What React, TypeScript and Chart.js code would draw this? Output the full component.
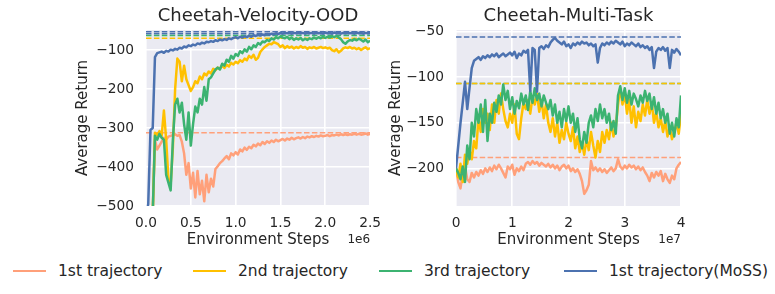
import React, { useEffect, useRef } from 'react';
import { Chart, registerables } from 'chart.js';

Chart.register(...registerables);

// ---------------- data ----------------
const LEFT_STEPS = Array.from({ length: 101 }, (_, i) => i * 25000);
const RIGHT_STEPS = Array.from({ length: 101 }, (_, i) => i * 400000);

const LEFT_X_TICKS = [0, 500000, 1000000, 1500000, 2000000, 2500000];
const LEFT_Y_TICKS = [-500, -400, -300, -200, -100];
const RIGHT_X_TICKS = [0, 10000000, 20000000, 30000000, 40000000];
const RIGHT_Y_TICKS = [-200, -150, -100, -50];

const SERIES_LABELS = ['1st trajectory', '2nd trajectory', '3rd trajectory', '1st trajectory(MoSS)'];

// Cheetah-Velocity-OOD (x step = 0.025e6)
const LEFT_T1: (number | null)[] = [
  null, null, null, -520, -330, -355, -345, -335, -325, -330,
  -322, -320, -318, -316, -320, -318, -335, -365, -420, -390,
  -455, -415, -478, -410, -470, -435, -488, -420, -465, -430,
  -450, -405, -398, -390, -385, -378, -372, -380, -365, -370,
  -362, -368, -355, -360, -350, -356, -348, -352, -343, -347,
  -340, -344, -336, -341, -334, -338, -332, -336, -330, -334,
  -331, -328, -332, -327, -330, -325, -329, -326, -324, -327,
  -323, -326, -322, -324, -321, -323, -320, -322, -319, -321,
  -320, -318, -321, -318, -319, -317, -319, -316, -318, -316,
  -318, -316, -317, -315, -317, -315, -317, -316, -314, -317,
  -315,
];
const LEFT_T2: (number | null)[] = [
  null, null, null, -520, -312, -318, -308, -320, -255, -330,
  -430, -445, -350, -200, -122, -130, -180, -140, -175, -190,
  -205, -195, -180, -185, -168, -175, -160, -165, -155, -160,
  -148, -152, -145, -148, -140, -146, -138, -142, -133, -137,
  -130, -134, -126, -130, -122, -126, -115, -120, -112, -125,
  -120, -105, -98, -92, -88, -84, -85, -80, -82, -85,
  -92, -88, -95, -90, -94, -91, -96, -92, -95, -90,
  -94, -92, -97, -93, -95, -92, -96, -94, -92, -95,
  -93, -96, -94, -100, -103, -98, -106, -102, -96, -93,
  -95, -92, -96, -94, -98, -95, -100, -96, -93, -98,
  -95,
];
const LEFT_T3: (number | null)[] = [
  null, null, null, -520, -320, -330, -315, -325, -330, -420,
  -440, -460, -330, -240, -225, -260, -235, -290, -330, -260,
  -345, -290, -245, -260, -225, -240, -195, -230, -175, -170,
  -160, -150, -145, -150, -135, -140, -125, -130, -115, -122,
  -110, -115, -103, -108, -98, -104, -92, -98, -88, -92,
  -82, -86, -78, -80, -74, -77, -70, -73, -67, -70,
  -65, -68, -70, -66, -72, -68, -74, -70, -73, -69,
  -75, -71, -74, -70, -72, -68, -71, -67, -70, -66,
  -69, -66, -68, -65, -67, -64, -68, -72, -80, -84,
  -78, -74, -76, -72, -75, -71, -74, -78, -73, -80,
  -76,
];
const LEFT_MOSS: (number | null)[] = [
  -530, -495, -305, -300, -118, -108, -106, -104, -107, -102,
  -104, -99, -101, -97, -99, -94, -96, -91, -93, -88,
  -90, -86, -88, -83, -85, -81, -83, -79, -80, -77,
  -79, -75, -77, -73, -75, -72, -74, -70, -72, -69,
  -67, -70, -66, -68, -65, -67, -63, -66, -62, -64,
  -61, -63, -60, -62, -59, -61, -58, -60, -57, -59,
  -56, -58, -56, -57, -55, -58, -56, -57, -55, -57,
  -56, -58, -55, -57, -56, -58, -55, -57, -56, -58,
  -55, -57, -56, -58, -55, -57, -56, -58, -56, -57,
  -55, -57, -56, -58, -55, -57, -56, -58, -56, -57,
  -56,
];
const LEFT_REFS = [-312, -70, -63, -53];
const LEFT_REF_EXTRA = -58;

// Cheetah-Multi-Task (x step = 0.04e7)
const RIGHT_T1: (number | null)[] = [
  -200, -215, -222, -205, -198, -212, -215, -205, -210, -204,
  -208, -202, -206, -200, -204, -199, -203, -197, -201, -196,
  -200, -205, -210, -198, -201, -196, -207, -200, -203, -198,
  -202, -195, -193, -196, -192, -195, -193, -197, -194, -196,
  -198, -195, -199, -196, -200, -197, -202, -198, -196, -200,
  -197, -203, -200, -204, -201, -206, -214, -228, -224, -218,
  -192, -202, -199, -203, -200, -204, -201, -205, -202, -199,
  -203, -200, -190, -198, -201, -197, -200, -196, -199, -197,
  -201, -198, -202, -199, -204, -208, -214, -205, -210, -204,
  -208, -203, -214, -206, -212, -216, -208, -212, -200, -196,
  -193,
];
const RIGHT_T2: (number | null)[] = [
  -200, -210, -195, -215, -185, -195, -180, -190, -170, -178,
  -145, -160, -135, -150, -140, -158, -130, -150, -125, -140,
  -118, -135, -148, -155, -140, -150, -130, -162, -168, -145,
  -128, -135, -125, -140, -122, -130, -118, -138, -125, -145,
  -130, -150, -160, -145, -165, -150, -172, -158, -168, -150,
  -162, -170, -155, -178, -165, -182, -172, -185, -168, -180,
  -160, -175, -188, -170, -182, -160, -172, -158, -168, -150,
  -165, -155, -130, -112, -130, -118, -140, -125, -150, -132,
  -155, -138, -148, -130, -142, -125, -140, -128, -150, -138,
  -155, -145, -160, -148, -165, -155, -168, -160, -150, -162,
  -140,
];
const RIGHT_T3: (number | null)[] = [
  -200, -205, -212, -198, -215, -175, -190, -150, -165, -135,
  -150, -130, -160, -125, -170, -140, -150, -128, -138, -120,
  -130, -108, -125, -115, -135, -122, -140, -126, -134, -118,
  -130, -120, -136, -115, -128, -112, -125, -118, -132, -120,
  -128, -135, -125, -142, -130, -150, -138, -155, -135, -148,
  -132, -150, -140, -160, -145, -168, -178, -160, -172, -150,
  -142, -155, -135, -148, -130, -145, -135, -150, -140, -158,
  -148, -162, -120, -110, -125, -112, -128, -115, -130, -118,
  -124, -132, -120, -128, -115, -126, -118, -135, -122, -140,
  -128, -145, -135, -150, -140, -162, -150, -165, -145, -155,
  -120,
];
const RIGHT_MOSS: (number | null)[] = [
  -200, -175, -150, -128, -105, -135, -112, -90, -82, -80,
  -78, -81, -77, -79, -76, -78, -75, -77, -74, -78,
  -76, -74, -77, -75, -73, -76, -72, -79, -74, -76,
  -71, -73, -70, -115, -68, -70, -116, -68, -66, -69,
  -65, -67, -62, -59, -57, -60, -62, -64, -61, -66,
  -64, -68, -63, -65, -62, -64, -61, -63, -62, -65,
  -63, -66, -64, -84, -68, -63, -65, -62, -64, -61,
  -63, -60, -62, -64, -61, -66, -63, -65, -62, -64,
  -66, -63, -67, -65, -68, -66, -70, -67, -90, -72,
  -68, -70, -67, -71, -68, -90, -70, -73, -69, -72,
  -76,
];
const RIGHT_REFS = [-188, -107, -107, -56];

// ---------------- styling ----------------
const FONT = '"DejaVu Sans", "Liberation Sans", sans-serif';
const TEXT = '#262626';
const COLORS = ['#FFA07A', '#FFC000', '#3CB371', '#4C72B0'];
const BG = '#EAEAF2';

const bgPlugin = {
  id: 'bgOffset',
  beforeDraw(chart: any) {
    const { ctx, chartArea: a } = chart;
    ctx.save();
    ctx.fillStyle = BG;
    ctx.fillRect(a.left, a.top, a.right - a.left, a.bottom - a.top);
    ctx.restore();
  },
  afterDraw(chart: any, _args: any, opts: any) {
    if (!opts || !opts.text) return;
    const { ctx, chartArea: a } = chart;
    ctx.save();
    ctx.font = `12px ${FONT}`;
    ctx.fillStyle = TEXT;
    ctx.textAlign = 'right';
    ctx.textBaseline = 'middle';
    ctx.fillText(opts.text, a.right, opts.y);
    ctx.restore();
  },
};

const minus = (v: number) => (v < 0 ? '\u2212' + Math.abs(v) : String(v));

type Cfg = {
  title: string;
  steps: number[];
  series: (number | null)[][];
  refs: number[];
  extraRef?: number;
  xMax: number;
  yMin: number;
  yMax: number;
  xTicks: number[];
  yTicks: number[];
  xFmt: (v: number) => string;
  offsetText: string;
  yAxisWidth: number;
  yTitlePad: number;
  rightPad: number;
};

function buildConfig(c: Cfg): any {
  const datasets: any[] = [];
  const orders = [3, 2, 1, 0];
  c.series.forEach((vals, k) => {
    datasets.push({
      label: SERIES_LABELS[k],
      data: vals.map((y, i) => ({ x: c.steps[i], y })),
      borderColor: COLORS[k],
      backgroundColor: COLORS[k],
      borderWidth: 2.5,
      pointRadius: 0,
      tension: 0,
      borderJoinStyle: 'round',
      spanGaps: false,
      order: orders[k],
    });
  });
  c.refs.forEach((v, k) => {
    datasets.push({
      label: SERIES_LABELS[k] + ' ref',
      data: [{ x: 0, y: v }, { x: c.xMax, y: v }],
      borderColor: COLORS[k],
      borderWidth: 1.5,
      borderDash: [5.5, 2.4],
      pointRadius: 0,
      order: 10 + k,
    });
  });
  if (c.extraRef !== undefined) {
    datasets.push({
      label: 'ref extra',
      data: [{ x: 0, y: c.extraRef }, { x: c.xMax, y: c.extraRef }],
      borderColor: COLORS[3],
      borderWidth: 1.5,
      borderDash: [5.5, 2.4],
      pointRadius: 0,
      order: 20,
    });
  }
  const tickFont = { family: FONT, size: 13.75 };
  const labelFont = { family: FONT, size: 15 };
  return {
    type: 'line',
    data: { datasets },
    plugins: [bgPlugin],
    options: {
      responsive: false,
      animation: false,
      events: [],
      layout: { padding: { left: 0, right: c.rightPad, top: 0, bottom: 0 } },
      plugins: {
        legend: { display: false },
        tooltip: { enabled: false },
        title: {
          display: true,
          text: c.title,
          color: TEXT,
          fullSize: false,
          font: { family: FONT, size: 18, weight: 'normal', lineHeight: 1.2 },
          padding: { top: 6, bottom: 2.4 },
        },
        bgOffset: { text: c.offsetText, y: 240 },
      },
      scales: {
        x: {
          type: 'linear',
          min: 0,
          max: c.xMax,
          afterBuildTicks: (s: any) => {
            s.ticks = c.xTicks.map((v) => ({ value: v }));
          },
          afterFit: (s: any) => {
            s.height = 44;
          },
          ticks: {
            callback: (v: any) => c.xFmt(Number(v)),
            font: tickFont,
            color: TEXT,
            padding: 9,
            maxRotation: 0,
            autoSkip: false,
          },
          grid: { color: '#ffffff', lineWidth: 1.6, drawTicks: false },
          border: { display: false },
          title: {
            display: true,
            text: 'Environment Steps',
            color: TEXT,
            font: labelFont,
            padding: { top: 0, bottom: 1 },
          },
        },
        y: {
          type: 'linear',
          min: c.yMin,
          max: c.yMax,
          afterBuildTicks: (s: any) => {
            s.ticks = c.yTicks.map((v) => ({ value: v }));
          },
          afterFit: (s: any) => {
            s.width = c.yAxisWidth;
          },
          ticks: {
            callback: (v: any) => minus(Number(v)),
            font: tickFont,
            color: TEXT,
            padding: 12,
            autoSkip: false,
          },
          grid: { color: '#ffffff', lineWidth: 1.6, drawTicks: false },
          border: { display: false },
          title: {
            display: true,
            text: 'Average Return',
            color: TEXT,
            font: labelFont,
            padding: { top: c.yTitlePad, bottom: 0 },
          },
        },
      },
    },
  };
}

function ChartCanvas(props: { cfg: Cfg; left: number; width: number; height: number }) {
  const ref = useRef<HTMLCanvasElement | null>(null);
  useEffect(() => {
    if (!ref.current) return;
    const chart = new Chart(ref.current, buildConfig(props.cfg));
    return () => chart.destroy();
  }, []);
  return (
    <canvas
      ref={ref}
      width={props.width}
      height={props.height}
      style={{ position: 'absolute', left: props.left, top: 0, width: props.width, height: props.height }}
    />
  );
}

const LEGEND_X = [13, 193, 379, 564];

export default function App() {
  const leftCfg: Cfg = {
    title: 'Cheetah-Velocity-OOD',
    steps: LEFT_STEPS,
    series: [LEFT_T1, LEFT_T2, LEFT_T3, LEFT_MOSS],
    refs: LEFT_REFS,
    extraRef: LEFT_REF_EXTRA,
    xMax: 2500000,
    yMin: -500,
    yMax: -48.6,
    xTicks: LEFT_X_TICKS,
    yTicks: LEFT_Y_TICKS,
    xFmt: (v) => (v / 1e6).toFixed(1),
    offsetText: '1e6',
    yAxisWidth: 146,
    yTitlePad: 74,
    rightPad: 19,
  };
  const rightCfg: Cfg = {
    title: 'Cheetah-Multi-Task',
    steps: RIGHT_STEPS,
    series: [RIGHT_T1, RIGHT_T2, RIGHT_T3, RIGHT_MOSS],
    refs: RIGHT_REFS,
    xMax: 40000000,
    yMin: -241.3,
    yMax: -48.2,
    xTicks: RIGHT_X_TICKS,
    yTicks: RIGHT_Y_TICKS,
    xFmt: (v) => String(Math.round(v / 1e7)),
    offsetText: '1e7',
    yAxisWidth: 76,
    yTitlePad: 7,
    rightPad: 94,
  };
  return (
    <div style={{ position: 'fixed', left: 0, top: 0, width: 775, height: 294, background: '#fff', overflow: 'hidden' }}>
      <ChartCanvas cfg={leftCfg} left={0} width={390} height={250} />
      <ChartCanvas cfg={rightCfg} left={380} width={395} height={250} />
      {SERIES_LABELS.map((label, k) => (
        <div
          key={label}
          style={{
            position: 'absolute',
            left: LEGEND_X[k],
            top: 261,
            height: 20,
            display: 'flex',
            alignItems: 'center',
            whiteSpace: 'nowrap',
          }}
        >
          <span style={{ display: 'inline-block', width: 33, height: 2.5, background: COLORS[k], marginRight: 12 }} />
          <span style={{ fontFamily: FONT, fontSize: 15.5, color: TEXT, lineHeight: '20px' }}>{label}</span>
        </div>
      ))}
    </div>
  );
}
